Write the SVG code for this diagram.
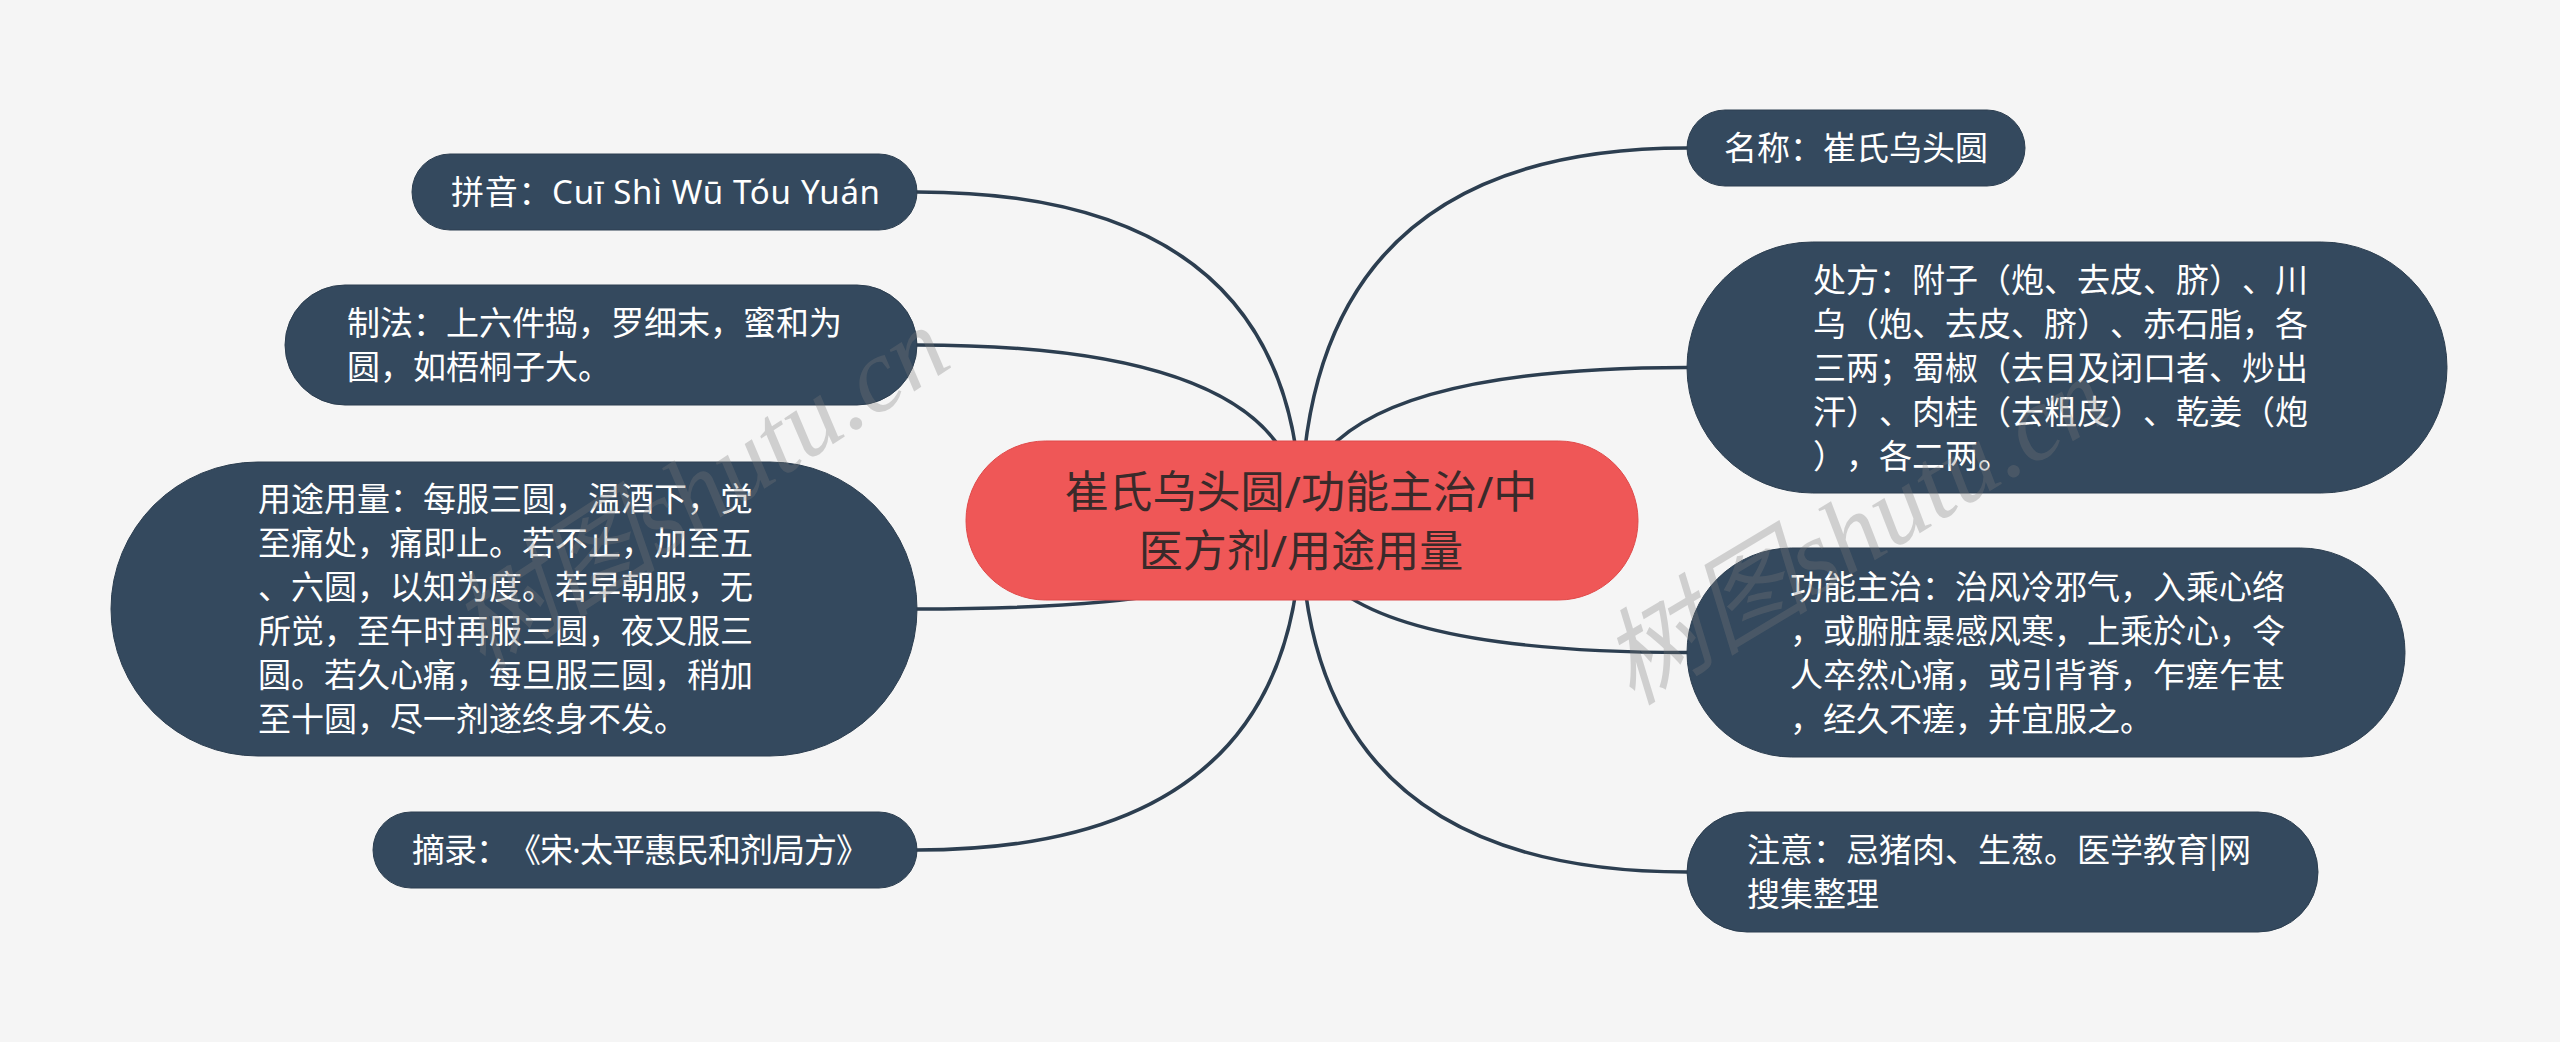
<svg xmlns="http://www.w3.org/2000/svg" width="2560" height="1042" viewBox="0 0 2560 1042">
<style>
.bg{fill:#f5f5f5}
.node{fill:#34495e;stroke:#2c3e50;stroke-width:1}
.root{fill:#ef5757;stroke:#e04a4a;stroke-width:1}
.t{font-family:"Noto Sans","Noto Sans CJK SC",sans-serif;font-size:33px;fill:#ffffff;text-spacing-trim:space-all}
.rt{font-family:"Noto Sans","Noto Sans CJK SC",sans-serif;font-size:44px;fill:#3a2a2a;text-anchor:middle}
.c{fill:none;stroke:#2c3e50;stroke-width:3.5;stroke-linecap:round}
.wm{font-family:"Liberation Serif","Noto Sans CJK SC",serif;font-style:italic;font-size:105px;fill:#7a7a7a;opacity:0.3}
</style>
<rect class="bg" x="0" y="0" width="2560" height="1042"/>
<g id="connectors">
<path class="c" d="M1301 520 Q1301 192 917 192"/>
<path class="c" d="M1301 520 Q1301 345 917 345"/>
<path class="c" d="M1301 520 Q1301 609 917 609"/>
<path class="c" d="M1301 520 Q1301 850 917 850"/>
<path class="c" d="M1301 520 Q1301 148 1687 148"/>
<path class="c" d="M1301 520 Q1301 367.5 1687 367.5"/>
<path class="c" d="M1301 520 Q1301 652.5 1687 652.5"/>
<path class="c" d="M1301 520 Q1301 872 1687 872"/>
</g>
<g id="root">
<rect class="root" x="966" y="441" width="672" height="159" rx="79.5"/>
<text class="rt" x="1301" y="508">崔氏乌头圆/功能主治/中</text>
<text class="rt" x="1301" y="567">医方剂/用途用量</text>
</g>
<g id="pinyin">
<rect class="node" x="412" y="154" width="505" height="76" rx="38"/>
<text class="t" x="451" y="204" textLength="429" lengthAdjust="spacing">拼音：Cuī Shì Wū Tóu Yuán</text>
</g>
<g id="zhifa">
<rect class="node" x="285" y="285" width="632" height="120" rx="60"/>
<text class="t" x="347" y="335">制法：上六件捣，罗细末，蜜和为</text>
<text class="t" x="347" y="379">圆，如梧桐子大。</text>
</g>
<g id="yongtu">
<rect class="node" x="111" y="462" width="806" height="294" rx="147"/>
<text class="t" x="258" y="511">用途用量：每服三圆，温酒下，觉</text>
<text class="t" x="258" y="555">至痛处，痛即止。若不止，加至五</text>
<text class="t" x="258" y="599">、六圆，以知为度。若早朝服，无</text>
<text class="t" x="258" y="643">所觉，至午时再服三圆，夜又服三</text>
<text class="t" x="258" y="687">圆。若久心痛，每旦服三圆，稍加</text>
<text class="t" x="258" y="731">至十圆，尽一剂遂终身不发。</text>
</g>
<g id="zhailu">
<rect class="node" x="373" y="812" width="544" height="76" rx="38"/>
<text class="t" x="412" y="862" textLength="457" lengthAdjust="spacing">摘录：《宋·太平惠民和剂局方》</text>
</g>
<g id="mingcheng">
<rect class="node" x="1687" y="110" width="338" height="76" rx="38"/>
<text class="t" x="1856" y="160" text-anchor="middle">名称：崔氏乌头圆</text>
</g>
<g id="chufang">
<rect class="node" x="1687" y="242" width="760" height="251" rx="125.5"/>
<text class="t" x="1813" y="292">处方：附子（炮、去皮、脐）、川</text>
<text class="t" x="1813" y="336">乌（炮、去皮、脐）、赤石脂，各</text>
<text class="t" x="1813" y="380">三两；蜀椒（去目及闭口者、炒出</text>
<text class="t" x="1813" y="424">汗）、肉桂（去粗皮）、乾姜（炮</text>
<text class="t" x="1813" y="468">），各二两。</text>
</g>
<g id="gongneng">
<rect class="node" x="1687" y="548" width="718" height="209" rx="104.5"/>
<text class="t" x="1790" y="599">功能主治：治风冷邪气，入乘心络</text>
<text class="t" x="1790" y="643">，或腑脏暴感风寒，上乘於心，令</text>
<text class="t" x="1790" y="687">人卒然心痛，或引背脊，乍瘥乍甚</text>
<text class="t" x="1790" y="731">，经久不瘥，并宜服之。</text>
</g>
<g id="zhuyi">
<rect class="node" x="1687" y="812" width="631" height="120" rx="60"/>
<text class="t" x="1747" y="862">注意：忌猪肉、生葱。医学教育<tspan font-family="Noto Sans CJK SC, sans-serif">|</tspan>网</text>
<text class="t" x="1747" y="906">搜集整理</text>
</g>
<g id="watermark">
<text class="wm" x="955" y="365" text-anchor="end" transform="rotate(-33 955 365)">树图shutu.cn</text>
<text class="wm" x="1632" y="706" transform="rotate(-31 1632 706)">树图shutu.cn</text>
</g>
</svg>
